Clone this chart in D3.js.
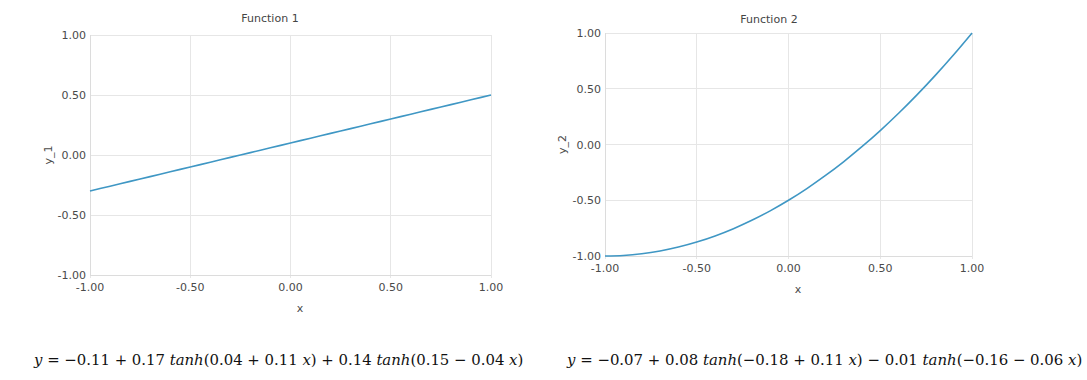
<!DOCTYPE html>
<html><head><meta charset="utf-8">
<script src="https://cdn.jsdelivr.net/npm/d3@7"></script>
<style>
body{margin:0;background:#fff;}
svg text{font-family:"DejaVu Sans",sans-serif;}
</style></head>
<body><svg id="c" width="1087" height="380"></svg>
<script>
const xs = [-1,-0.9,-0.8,-0.7,-0.6,-0.5,-0.4,-0.3,-0.2,-0.1,0,0.1,0.2,0.3,0.4,0.5,0.6,0.7,0.8,0.9,1];
const y1 = [-0.30,-0.26,-0.22,-0.18,-0.14,-0.10,-0.06,-0.02,0.02,0.06,0.10,0.14,0.18,0.22,0.26,0.30,0.34,0.38,0.42,0.46,0.50];
const y2 = [-1.00,-0.995,-0.98,-0.955,-0.92,-0.875,-0.82,-0.755,-0.68,-0.595,-0.50,-0.395,-0.28,-0.155,-0.02,0.125,0.28,0.445,0.62,0.805,1.00];
const ticks = [-1,-0.5,0,0.5,1];
const titles = ["Function 1","Function 2"];
const yLabels = ["y_1","y_2"];
const equations = [
  [["y",1],[" = −0.11 + 0.17 ",0],["tanh",1],["(0.04 + 0.11 ",0],["x",1],[") + 0.14 ",0],["tanh",1],["(0.15 − 0.04 ",0],["x",1],[")",0]],
  [["y",1],[" = −0.07 + 0.08 ",0],["tanh",1],["(−0.18 + 0.11 ",0],["x",1],[") − 0.01 ",0],["tanh",1],["(−0.16 − 0.06 ",0],["x",1],[")",0]]
];

const svg = d3.select("#c");
const panels = [
  {x0:90,x1:491,yt:35,yb:275,data:y1,tx:270,ty:22,ylx:52,xlx:300,xly:312,eqx:34,eqw:490},
  {x0:605,x1:972,yt:33,yb:256,data:y2,tx:769,ty:23,ylx:566,xlx:798,xly:293,eqx:567,eqw:516}
];
const fmt = d3.formatLocale({decimal:".",thousands:",",grouping:[3],currency:["",""],minus:"-"}).format(".2f");
const txtCol = "#4a4a4a";
const gridCol = "#e6e6e6";

panels.forEach((p,i)=>{
  const x = d3.scaleLinear().domain([-1,1]).range([p.x0,p.x1]);
  const y = d3.scaleLinear().domain([-1,1]).range([p.yb,p.yt]);
  const g = svg.append("g");
  g.selectAll(".gx").data(ticks).join("line")
    .attr("x1",d=>x(d)).attr("x2",d=>x(d)).attr("y1",p.yt).attr("y2",p.yb+3)
    .attr("stroke",gridCol).attr("stroke-width",1).attr("shape-rendering","crispEdges");
  g.selectAll(".gy").data(ticks).join("line")
    .attr("x1",p.x0).attr("x2",p.x1).attr("y1",d=>y(d)).attr("y2",d=>y(d))
    .attr("stroke",gridCol).attr("stroke-width",1).attr("shape-rendering","crispEdges");
  g.append("line").attr("x1",p.x0).attr("x2",p.x1).attr("y1",p.yb).attr("y2",p.yb)
    .attr("stroke","#dcdcdc").attr("shape-rendering","crispEdges");
  g.append("line").attr("x1",p.x0).attr("x2",p.x0).attr("y1",p.yt).attr("y2",p.yb)
    .attr("stroke","#dcdcdc").attr("shape-rendering","crispEdges");
  g.selectAll(".tx").data(ticks).join("text")
    .attr("x",d=>x(d)).attr("y",p.yb+16).attr("text-anchor","middle")
    .attr("font-size",11).attr("fill",txtCol).text(d=>fmt(d));
  g.selectAll(".ty").data(ticks).join("text")
    .attr("x",p.x0-4).attr("y",d=>y(d)+4).attr("text-anchor","end")
    .attr("font-size",11).attr("fill",txtCol).text(d=>fmt(d));
  g.append("text").attr("x",p.tx).attr("y",p.ty).attr("text-anchor","middle")
    .attr("font-size",11).attr("fill","#444").text(titles[i]);
  g.append("text").attr("x",p.xlx).attr("y",p.xly).attr("text-anchor","middle")
    .attr("font-size",11).attr("fill",txtCol).text("x");
  g.append("text").attr("transform",`translate(${p.ylx},${y(0)}) rotate(-90)`)
    .attr("text-anchor","middle").attr("font-size",11).attr("fill",txtCol).text(yLabels[i]);
  const line = d3.line().x((d,k)=>x(xs[k])).y(d=>y(d)).curve(d3.curveMonotoneX);
  g.append("path").datum(p.data).attr("d",line).attr("fill","none")
    .attr("stroke","#3f97c4").attr("stroke-width",1.6);
  const t = svg.append("text").attr("x",p.eqx).attr("y",365)
    .attr("font-size",16).attr("fill","#111")
    .style("font-family","'DejaVu Serif','Liberation Serif',serif");
  equations[i].forEach(([s,it])=>{
    t.append("tspan").attr("font-style",it?"italic":"normal").text(s);
  });
  const w = t.node().getComputedTextLength();
  t.attr("font-size",16*p.eqw/w);
});
</script></body></html>
